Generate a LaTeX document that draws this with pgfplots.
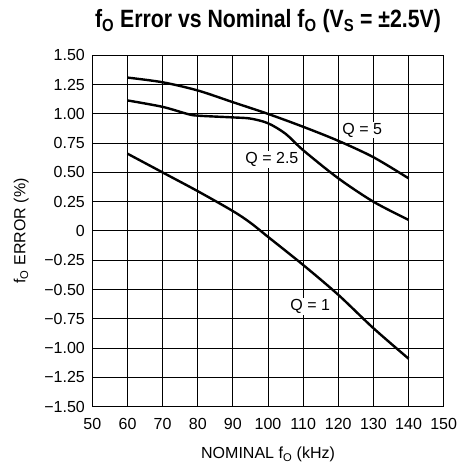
\documentclass[border=0pt]{standalone}
\usepackage{pgfplots}
\pgfplotsset{compat=1.18}
\usepackage{fontspec}
\setmainfont{Liberation Sans}
\newfontfamily\titlefont{Liberation Sans}[FakeStretch=0.85]
\begin{document}
\begin{tikzpicture}
\begin{axis}[
    scale only axis,
    width=351pt, height=351pt,
    xmin=50, xmax=150,
    ymin=-1.5, ymax=1.5,
    xtick={50,60,...,150},
    ytick={-1.5,-1.25,...,1.5},
    yticklabels={−1.50,−1.25,−1.00,−0.75,−0.50,−0.25,0,0.25,0.50,0.75,1.00,1.25,1.50},
    /pgf/number format/assume math mode=true,
    grid=major,
    grid style={black, line width=1pt},
    major tick length=0pt,
    axis line style={line width=1.5pt},
    tick label style={font=\fontsize{16}{18}\selectfont},
    xticklabel style={yshift=-8pt},
    yticklabel style={xshift=-4pt},
    xlabel={NOMINAL f\textsubscript{O} (kHz)},
    ylabel={f\textsubscript{O} ERROR (\%)},
    label style={font=\fontsize{16}{18}\selectfont},
    xlabel style={at={(axis description cs:0.5,0)}, anchor=base, yshift=-52pt},
    ylabel style={at={(axis description cs:-0.2023,0.5)}, anchor=center},
    title={f\textsubscript{O} Error vs Nominal f\textsubscript{O} (V\textsubscript{S} = ±2.5V)},
    title style={font=\titlefont\fontsize{25}{29}\selectfont\bfseries,
        at={(axis description cs:0.5,1)}, anchor=base, yshift=22pt},
    clip=false,
]
% Q = 5
\addplot[smooth, black, line width=2.4pt] coordinates {
    (60,1.31) (70,1.27) (80,1.20) (90,1.10) (100,1.00)
    (110,0.89) (120,0.77) (130,0.63) (140,0.45)
};
% Q = 2.5
\addplot[smooth, black, line width=2.4pt] coordinates {
    (60,1.115) (70,1.06) (77,1.00) (80,0.985) (90,0.97) (95,0.96)
    (100,0.92) (105,0.83) (110,0.69) (120,0.45) (130,0.25) (140,0.095)
};
% Q = 1
\addplot[smooth, black, line width=2.4pt] coordinates {
    (60,0.66) (70,0.50) (80,0.34) (90,0.17) (95,0.07) (100,-0.05)
    (110,-0.29) (120,-0.545) (130,-0.83) (140,-1.09)
};
\node[fill=white, inner sep=1pt, font=\fontsize{16}{18}\selectfont] at (axis cs:126.8,0.86) {Q = 5};
\node[fill=white, inner sep=1pt, font=\fontsize{16}{18}\selectfont] at (axis cs:101.1,0.61) {Q = 2.5};
\node[fill=white, inner sep=1pt, font=\fontsize{16}{18}\selectfont] at (axis cs:112,-0.645) {Q = 1};
\end{axis}
% fix the page to the reference's frame around the axis
\path (current axis.south west) ++(-92.3pt,-59.3pt) coordinate (bl);
\path (current axis.north east) ++(13.7pt,55.3pt) coordinate (tr);
\pgfresetboundingbox
\path (bl) rectangle (tr);
\end{tikzpicture}
\end{document}
